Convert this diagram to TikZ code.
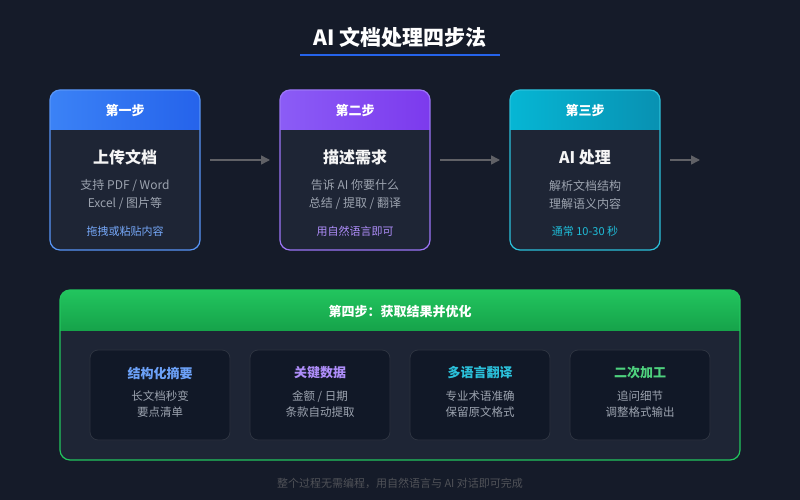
\documentclass[tikz,border=0pt]{standalone}
\usepackage{fontspec}
\setmainfont{Noto Sans CJK SC}
\usetikzlibrary{arrows.meta}
\definecolor{bgc}{HTML}{151B29}
\definecolor{cardc}{HTML}{1E2535}
\definecolor{subc}{HTML}{111827}
\definecolor{blueA}{HTML}{3B82F6}
\definecolor{blueB}{HTML}{2563EB}
\definecolor{purA}{HTML}{8B5CF6}
\definecolor{purB}{HTML}{7C3AED}
\definecolor{cyaA}{HTML}{06B6D4}
\definecolor{cyaB}{HTML}{0891B2}
\definecolor{grnA}{HTML}{22C55E}
\definecolor{grnB}{HTML}{16A34A}
\definecolor{txtg}{HTML}{9CA3AF}
\tikzset{
  head/.style={font=\bfseries\fontsize{13}{15}\selectfont, text=white},
  ctitle/.style={font=\bfseries\fontsize{16}{18}\selectfont, text=white!92!gray},
  cline/.style={font=\fontsize{12}{18}\selectfont, text=txtg, align=center},
  stitle/.style={font=\bfseries\fontsize{13}{15}\selectfont},
  arr/.style={-{Triangle[length=9pt,width=9pt]}, draw=gray!70!bgc, line width=1.5pt}
}
\begin{document}
\begin{tikzpicture}[x=1pt,y=-1pt]
  \fill[bgc] (0,0) rectangle (800,500);
  \useasboundingbox (0,0) rectangle (800,500);
  % title
  \node (title) [font=\bfseries\fontsize{21}{24}\selectfont, text=white] at (400,37) {AI 文档处理四步法};
  \draw[blueB, line width=1.5pt] (300,55) -- (500,55);
  % step cards
  \foreach \x/\ca/\cb/\hd/\tt/\la/\lb/\bt/\bc [count=\i] in {
      50/blueA/blueB/第一步/上传文档/支持 PDF \slash{} Word/Excel \slash{} 图片等/拖拽或粘贴内容/blueA!70!white,
      280/purA/purB/第二步/描述需求/告诉 AI 你要什么/总结 \slash{} 提取 \slash{} 翻译/用自然语言即可/purA!70!white,
      510/cyaA/cyaB/第三步/AI 处理/解析文档结构/理解语义内容/通常 10-30 秒/cyaA!90!white}{
    \begin{scope}
      \clip[rounded corners=10pt] (\x,90) rectangle (\x+150,250);
      \fill[cardc] (\x,90) rectangle (\x+150,250);
      \shade[left color=\ca, right color=\cb] (\x,90) rectangle (\x+150,130);
    \end{scope}
    \draw[\ca!85!white, line width=1.2pt, rounded corners=10pt] (\x,90) rectangle (\x+150,250);
    \node (h\i) [head] at (\x+75,111) {\hd};
    \node (t\i) [ctitle] at (\x+75,157) {\tt};
    \node (l\i) [cline] at (\x+75,195) {\la\\\lb};
    \node (b\i) [font=\fontsize{11}{13}\selectfont, text=\bc] at (\x+75,231) {\bt};
  }
  \coordinate (a1s) at (210,160); \coordinate (a1e) at (270,160);
  \coordinate (a2s) at (440,160); \coordinate (a2e) at (500,160);
  \coordinate (a3s) at (670,160); \coordinate (a3e) at (700,160);
  \draw[arr] (a1s) -- (a1e);
  \draw[arr] (a2s) -- (a2e);
  \draw[arr] (a3s) -- (a3e);
  % step four
  \begin{scope}
    \clip[rounded corners=10pt] (60,290) rectangle (740,460);
    \fill[cardc] (60,290) rectangle (740,460);
    \shade[top color=grnA, bottom color=grnB] (60,290) rectangle (740,330);
  \end{scope}
  \draw[grnA, line width=1.2pt, rounded corners=10pt] (60,290) rectangle (740,460);
  \node (h4) [head] at (400,312) {第四步：获取结果并优化};
  \foreach \x/\c/\st/\la/\lb [count=\i] in {
      90/blueA!75!white/结构化摘要/长文档秒变/要点清单,
      250/purA!70!white/关键数据/金额 \slash{} 日期/条款自动提取,
      410/cyaA!85!white/多语言翻译/专业术语准确/保留原文格式,
      570/grnA!80!white/二次加工/追问细节/调整格式输出}{
    \draw[subc, fill=subc, rounded corners=8pt] (\x,350) rectangle (\x+140,440);
    \draw[white!12!subc, line width=0.8pt, rounded corners=8pt] (\x,350) rectangle (\x+140,440);
    \node (s\i) [stitle, text=\c] at (\x+70,373) {\st};
    \node (d\i) [cline, font=\fontsize{11.5}{16}\selectfont] at (\x+70,404) {\la\\\lb};
  }
  \node (foot) [font=\fontsize{11}{13}\selectfont, text=gray!55!bgc] at (400,483) {整个过程无需编程，用自然语言与 AI 对话即可完成};
\end{tikzpicture}
\end{document}
